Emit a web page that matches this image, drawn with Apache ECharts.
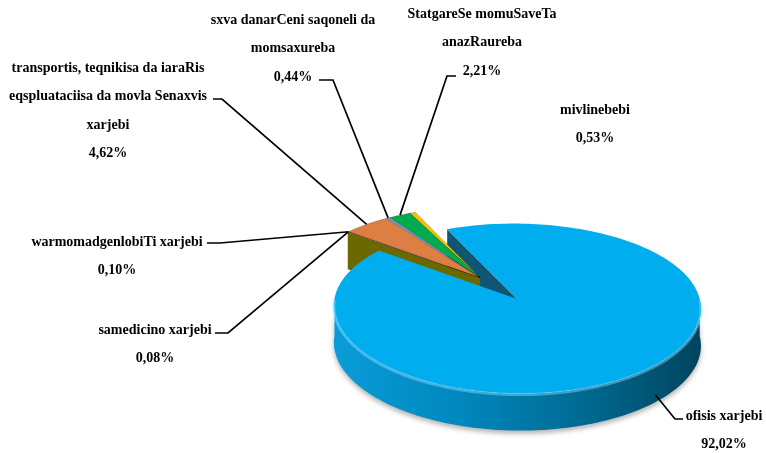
<!DOCTYPE html>
<html>
<head>
<meta charset="utf-8">
<script src="https://cdn.jsdelivr.net/npm/echarts@6/dist/echarts.min.js"></script>
<style>
  html, body { margin: 0; padding: 0; background: #fff; }
  #chart { width: 766px; height: 453px; }
</style>
</head>
<body>
<div id="chart"></div>
<script>
// Expense structure, % of total
const categories = [
  'ofisis xarjebi',
  'samedicino xarjebi',
  'warmomadgenlobiTi xarjebi',
  'transportis, teqnikisa da iaraRis eqspluataciisa da movla Senaxvis xarjebi',
  'sxva danarCeni saqoneli da momsaxureba',
  'StatgareSe momuSaveTa anazRaureba',
  'mivlinebebi'
];
const shares = [92.02, 0.08, 0.10, 4.62, 0.44, 2.21, 0.53];

// word counts after which a label wraps to a new line
const labelBreaks = [[], [], [], [4, 8], [4], [2], []];

// slice styling: top face colour and side colour
const topColors  = ['#00AEEF', '#A3A300', '#8E3B22', '#DD7F43', '#8093BD', '#00AC4E', '#FFC000'];
const sideColors = ['#0E5673', '#6B6800', '#6A2A18', '#A85A2A', '#56688E', '#007A37', '#C99500'];

// label placement: text block centre / first line, leader stub (slice side first)
const labelLayout = [
  { x: 724, y: 416, stub: [[675, 419], [683, 419]] },
  { x: 155, y: 330, stub: [[228, 333], [215, 333]] },
  { x: 117, y: 242, stub: [[220, 243], [207, 243]] },
  { x: 108, y: 68,  stub: [[222, 99],  [213, 99]] },
  { x: 293, y: 20,  stub: [[333, 80],  [319, 80]] },
  { x: 482, y: 14,  stub: [[447, 76],  [456, 76]] },
  { x: 595, y: 110, stub: null }
];

// 3D pie geometry
const CX = 480, CY = 277.5;      // projected pie centre
const RX = 178, RY = 80;         // horizontal / vertical radii
const P = 0.12, Q = 0.1;         // mild perspective
const DEPTH = 37;                // thickness of the disc
const START_ANGLE = 113.6;       // degrees, slices run clockwise
const EXPLODE_INDEX = 0, EXPLODE = 0.33;
const LINE_H = 28.5;
const FONT = 'bold 14px "Liberation Serif", "Times New Roman", serif';

const total = shares.reduce((a, b) => a + b, 0);
const cum = [0];
shares.forEach((v, i) => cum.push(cum[i] + v));

const rad = d => d * Math.PI / 180;

function project(u, v, h) {
  return [CX + RX * u * (1 - Q * v), CY - RY * v * (1 - P * v) + h];
}
function rim(ou, ov, a, h) {
  return project(ou + Math.cos(rad(a)), ov + Math.sin(rad(a)), h);
}
function arc(ou, ov, a0, a1, h) {
  const n = Math.max(2, Math.ceil(Math.abs(a1 - a0) / 1.5));
  const pts = [];
  for (let k = 0; k <= n; k++) pts.push(rim(ou, ov, a0 + (a1 - a0) * k / n, h));
  return pts;
}
function sliceAngles(i) {
  const hi = START_ANGLE - cum[i] / total * 360;
  const lo = START_ANGLE - cum[i + 1] / total * 360;
  return { hi, lo, mid: (hi + lo) / 2 };
}
function pctText(v) {
  return v.toFixed(2).replace('.', ',') + '%';
}
function wrapLabel(name, breaks) {
  const words = name.split(' ');
  const lines = [];
  let from = 0;
  breaks.concat([words.length]).forEach(b => {
    if (b > from) lines.push(words.slice(from, b).join(' '));
    from = b;
  });
  return lines;
}

function renderItem(params, api) {
  const i = params.dataIndex;
  const n = shares.length;
  const { hi, lo, mid } = sliceAngles(i);
  const off = i === EXPLODE_INDEX ? EXPLODE : 0;
  const ou = off * Math.cos(rad(mid)), ov = off * Math.sin(rad(mid));
  const exploded = off > 0;
  const prevExploded = ((i - 1 + n) % n) === EXPLODE_INDEX;
  const nextExploded = ((i + 1) % n) === EXPLODE_INDEX;
  const children = [];
  const zWall = exploded ? 1 : 2, zTop = exploded ? 4 : 3;

  // outer curved wall, front half only
  for (const k of [-720, -360, 0, 360]) {
    const a = Math.max(lo, 180 + k), b = Math.min(hi, 360 + k);
    if (b > a) {
      const pts = arc(ou, ov, a, b, 0).concat(arc(ou, ov, b, a, DEPTH));
      children.push({
        type: 'polygon', z2: zWall,
        shape: { points: pts },
        style: {
          fill: i === 0 ? {
            type: 'linear', x: 0, y: 0, x2: 1, y2: 0,
            colorStops: [
              { offset: 0, color: '#0A9CD8' },
              { offset: 0.35, color: '#0087BD' },
              { offset: 0.7, color: '#006890' },
              { offset: 1, color: '#00435D' }
            ]
          } : sideColors[i],
          shadowBlur: 5, shadowOffsetY: 3, shadowColor: 'rgba(0,0,0,0.3)'
        }
      });
      // soft light band on the top rim
      children.push({
        type: 'polyline', z2: zTop + 0.5,
        shape: { points: arc(ou, ov, a, b, 1) },
        style: { stroke: 'rgba(140,220,255,0.45)', lineWidth: 3, fill: null }
      });
    }
  }

  // radial walls where the disc is split apart
  const radial = a => {
    const c0 = project(ou, ov, 0), c1 = project(ou, ov, DEPTH);
    return [c0, rim(ou, ov, a, 0), rim(ou, ov, a, DEPTH), c1];
  };
  if (Math.cos(rad(hi)) < 0 && (exploded || prevExploded)) {
    children.push({ type: 'polygon', z2: zWall, shape: { points: radial(hi) }, style: { fill: sideColors[i] } });
  }
  if (Math.cos(rad(lo)) > 0 && (exploded || nextExploded)) {
    children.push({ type: 'polygon', z2: zWall, shape: { points: radial(lo) }, style: { fill: sideColors[i] } });
  }

  // top face
  children.push({
    type: 'polygon', z2: zTop,
    shape: { points: [project(ou, ov, 0)].concat(arc(ou, ov, lo, hi, 0)) },
    style: exploded ? { fill: topColors[i] } :
      { fill: topColors[i], stroke: 'rgba(0,0,0,0.3)', lineWidth: 0.6 }
  });

  // label and leader line
  const lay = labelLayout[i];
  const lines = wrapLabel(categories[i], labelBreaks[i]);
  lines.push(pctText(api.value(0)));
  lines.forEach((t, k) => {
    children.push({
      type: 'text', z2: 10, x: lay.x, y: lay.y + k * LINE_H,
      style: { text: t, font: FONT, fill: '#000', align: 'center', verticalAlign: 'middle' }
    });
  });
  if (lay.stub) {
    const front = Math.sin(rad(mid)) < 0;
    const anchor = rim(ou, ov, front ? mid + 6 : mid, front ? DEPTH * 0.8 : 0);
    children.push({
      type: 'polyline', z2: 9,
      shape: { points: [anchor, lay.stub[0], lay.stub[1]] },
      style: { stroke: '#000', lineWidth: 1.7, fill: null }
    });
  }
  return { type: 'group', children };
}

const chart = echarts.init(document.getElementById('chart'), null, { renderer: 'canvas' });
chart.setOption({
  animation: false,
  backgroundColor: '#fff',
  series: [{
    type: 'custom',
    coordinateSystem: 'none',
    renderItem,
    data: shares
  }]
});
</script>
</body>
</html>
